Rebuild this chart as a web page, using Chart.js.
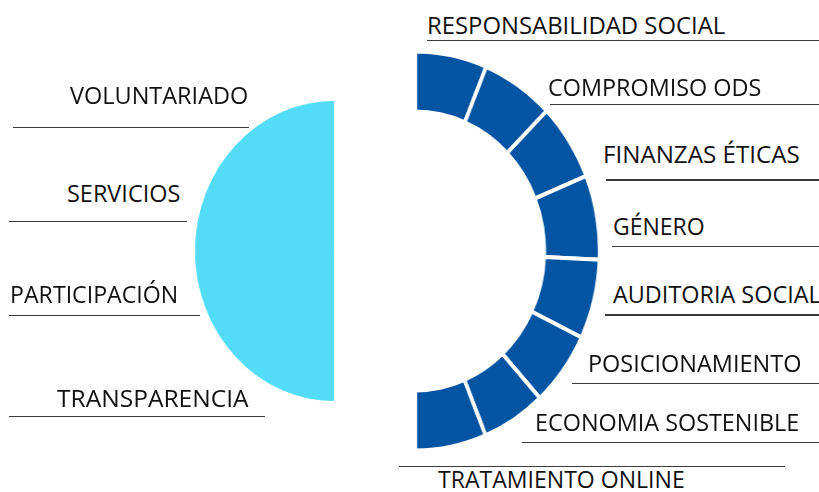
<!DOCTYPE html>
<html>
<head>
<meta charset="utf-8">
<script src="https://cdn.jsdelivr.net/npm/chart.js@4.4.1/dist/chart.umd.min.js"></script>
<style>
    html, body { margin: 0; padding: 0; background: #ffffff; }
    #stage { position: relative; width: 819px; height: 492px; overflow: hidden; font-family: "Open Sans", sans-serif; }
    .wrap { position: absolute; }
    .lbl { position: absolute; white-space: nowrap; font-size: 23.4px; line-height: 23.4px; color: #111111; transform-origin: 0 0; }
    .rule { position: absolute; height: 1.5px; background: #3a3a3a; }
</style>
</head>
<body>
<div id="stage">
    <div class="wrap" id="leftWrap" style="left:183.7px; top:100.8px; width:150px; height:300px; transform:scaleX(0.925); transform-origin:100% 50%;">
        <canvas id="leftChart" width="150" height="300"></canvas>
    </div>
    <div class="wrap" id="rightWrap" style="left:415.2px; top:50.8px; width:200px; height:400px; transform:scaleX(0.925); transform-origin:0 50%;">
        <canvas id="rightChart" width="200" height="400"></canvas>
    </div>
</div>
<script>
// left half disc, labels top to bottom
const leftLabels = ['VOLUNTARIADO', 'SERVICIOS', 'PARTICIPACIÓN', 'TRANSPARENCIA'];
const leftValues = [1, 1, 1, 1];

// right half ring, segments top to bottom
const rightLabels = ['RESPONSABILIDAD SOCIAL', 'COMPROMISO ODS', 'FINANZAS ÉTICAS', 'GÉNERO',
                     'AUDITORIA SOCIAL', 'POSICIONAMIENTO', 'ECONOMIA SOSTENIBLE', 'TRATAMIENTO ONLINE'];
const rightValues = [22.6, 22.8, 22.5, 24.6, 23.2, 21.8, 20.1, 22.4];

const leftColor = '#52dcf8';
const rightColor = '#0354a3';

// label layout: [textLeft, textRight, baseline, lineX1, lineX2, lineY]
const leftLayout = [
    [70, 248.3, 105, 12.7, 249.3, 127.3],
    [66.7, 180, 202.7, 9, 186.7, 221.7],
    [10, 178.3, 303.3, 9, 200, 315.7],
    [56.7, 248.3, 407.3, 9, 265, 416.7]
];
const rightLayout = [
    [426.7, 725, 35, 426.7, 819, 40.7],
    [547.7, 761, 97, 550, 819, 104.3],
    [603.3, 800, 163.3, 606, 819, 180],
    [613.3, 705, 236, 611.7, 819, 246.7],
    [613.3, 821, 304, 605, 819, 315],
    [588.3, 801.7, 372.7, 571.7, 819, 383.3],
    [535, 799.3, 431.7, 521.7, 819, 442.3],
    [438.3, 685, 488.4, 399.3, 785, 466.7]
];

// left chart: Chart.js draws clockwise from the bottom, so feed it bottom to top
const leftChart = new Chart(document.getElementById('leftChart'), {
    type: 'pie',
    data: {
        labels: leftLabels.slice().reverse(),
        datasets: [{
            data: leftValues.slice().reverse(),
            backgroundColor: leftColor,
            borderColor: leftColor,   // same colour hides the seams
            borderWidth: 1
        }]
    },
    options: {
        responsive: false,
        animation: false,
        rotation: 180,
        circumference: 180,
        radius: 149.5,
        plugins: { legend: { display: false }, tooltip: { enabled: false } }
    }
});

const rightChart = new Chart(document.getElementById('rightChart'), {
    type: 'doughnut',
    data: {
        labels: rightLabels,
        datasets: [{
            data: rightValues,
            backgroundColor: rightColor,
            borderColor: '#ffffff',
            borderWidth: 4
        }]
    },
    options: {
        responsive: false,
        animation: false,
        rotation: 0,
        circumference: 180,
        radius: 199.5,
        cutout: '69.9%',
        plugins: { legend: { display: false }, tooltip: { enabled: false } }
    }
});

// labels with their rules
const stage = document.getElementById('stage');
const spans = [];

function addLabels(labels, layout) {
    labels.forEach((text, i) => {
        const [tx1, tx2, base, lx1, lx2, ly] = layout[i];
        const rule = document.createElement('div');
        rule.className = 'rule';
        rule.style.left = lx1 + 'px';
        rule.style.width = (lx2 - lx1) + 'px';
        rule.style.top = (ly - 0.75) + 'px';
        stage.appendChild(rule);

        const span = document.createElement('span');
        span.className = 'lbl';
        span.textContent = text;
        span.style.left = tx1 + 'px';
        span.style.top = (base - 0.888 * 23.4) + 'px';
        stage.appendChild(span);
        spans.push([span, tx2 - tx1]);
    });
}
addLabels(leftLabels, leftLayout);
addLabels(rightLabels, rightLayout);

function fitLabels() {
    spans.forEach(([span, target]) => {
        const w = span.getBoundingClientRect().width;
        if (w > 0) span.style.transform = 'scaleX(' + (target / w) + ')';
    });
}
if (document.fonts && document.fonts.ready) {
    document.fonts.ready.then(fitLabels);
} else {
    fitLabels();
}
</script>
</body>
</html>
